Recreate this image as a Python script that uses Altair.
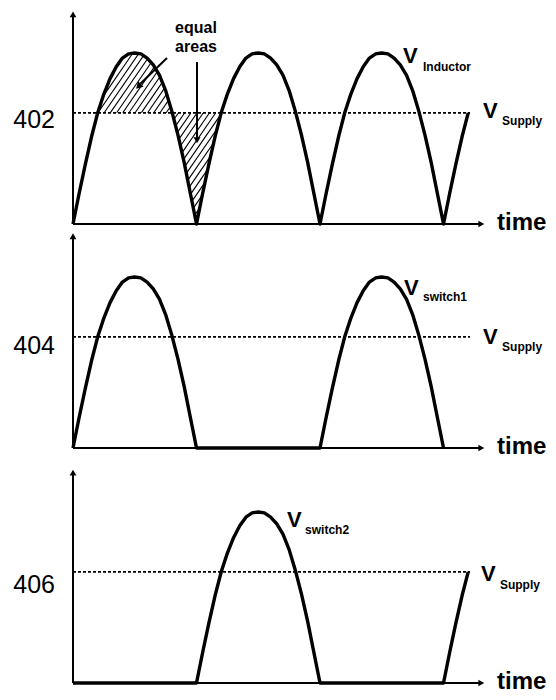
import altair as alt
import pandas as pd
import numpy as np

# ---- data ----
# one half-period "hump" of the rectified waveform, normalised to peak = 1
hump_t = [0.0, 0.05, 0.10, 0.15, 0.20, 0.25, 0.30, 0.35, 0.40, 0.45, 0.50,
          0.55, 0.60, 0.65, 0.70, 0.75, 0.80, 0.85, 0.90, 0.95, 1.0]
hump_v = [0.0, 0.18, 0.35, 0.51, 0.65, 0.76, 0.85, 0.92, 0.97, 0.995, 1.0,
          0.995, 0.97, 0.93, 0.87, 0.78, 0.66, 0.52, 0.36, 0.18, 0.0]
supply_level = 0.65

panel_ids = ["402", "404", "406"]
wave_names = ["Inductor", "switch1", "switch2"]
# waveform pieces of each panel: (kind, start time)
panel_segments = [
    [("hump", 0), ("hump", 1), ("hump", 2), ("rise", 3)],
    [("hump", 0), ("flat", 1), ("hump", 2)],
    [("flat", 0), ("hump", 1), ("flat", 2), ("rise", 3)],
]
supply_end = [3.215, 3.215, 3.215]
axis_end = 3.336
time_label = "time"

# ---- layout ----
X_DOMAIN = [-0.5263, 3.846]
panel_heights = [224, 233, 227]
panel_ydomains = [[-0.0468, 1.263], [-0.0994, 1.263], [-0.0526, 1.2749]]
axis_tip = [1.251, 1.263, 1.255]
FONT = "Liberation Sans"

xs = alt.Scale(domain=X_DOMAIN, nice=False, zero=False)


def wave_frame(segs):
    rows = []
    k = 0
    for kind, t0 in segs:
        if kind == "hump":
            pts = list(zip(hump_t, hump_v))
        elif kind == "rise":
            pts = list(zip(hump_t[:5], hump_v[:5]))
        else:
            pts = [(0.0, 0.0), (1.0, 0.0)]
        for tt, vv in pts:
            rows.append({"t": t0 + tt, "v": vv, "o": k})
            k += 1
    return pd.DataFrame(rows)


def hatch_frame():
    # diagonal hatch segments clipped to the two "equal area" regions
    def f(t):
        return np.interp(np.mod(t, 1.0), hump_t, hump_v)
    k = 1.45 * 123.5 / 171.0
    rows = []
    for c in np.arange(-0.2, 1.95, 6.2 / 123.5):
        tt = np.arange(max(0, c - 0.8), min(1.5, c + 0.9), 0.001)
        vv = supply_level + k * (tt - c)
        fv = f(tt)
        inside = ((vv >= supply_level) & (vv <= fv) & (tt < 1.0)) | (
            (vv <= supply_level) & (vv >= fv) & (tt > 0.5) & (tt < 1.5))
        idx = np.where(inside)[0]
        if len(idx) == 0:
            continue
        runs = np.split(idx, np.where(np.diff(idx) > 1)[0] + 1)
        for r in runs:
            if len(r) < 3:
                continue
            rows.append({"t": tt[r[0]], "v": vv[r[0]], "t2": tt[r[-1]], "v2": vv[r[-1]]})
    return pd.DataFrame(rows)


def text_layer(df, ys, size, weight="normal", align="left"):
    return alt.Chart(df).mark_text(
        font=FONT, fontSize=size, fontWeight=weight, align=align,
        baseline="middle", color="black"
    ).encode(
        x=alt.X("t:Q", scale=xs, axis=None),
        y=alt.Y("v:Q", scale=ys, axis=None),
        text="text:N",
    )


def make_panel(i):
    ys = alt.Scale(domain=panel_ydomains[i], nice=False, zero=False)
    X = lambda f="t": alt.X(f + ":Q", scale=xs, axis=None)
    Y = lambda f="v": alt.Y(f + ":Q", scale=ys, axis=None)
    layers = []

    # axes
    axes = pd.DataFrame([
        {"t": 0, "t2": 0, "v": 0, "v2": axis_tip[i] - 0.02},
        {"t": 0, "t2": axis_end - 0.03, "v": 0, "v2": 0},
    ])
    layers.append(alt.Chart(axes).mark_rule(color="black", strokeWidth=2).encode(
        x=X(), x2="t2:Q", y=Y(), y2="v2:Q"))
    up = pd.DataFrame([{"t": 0, "v": axis_tip[i] - 0.025}])
    layers.append(alt.Chart(up).mark_point(shape="triangle-up", filled=True, size=45,
                                           color="black", opacity=1).encode(x=X(), y=Y()))
    right = pd.DataFrame([{"t": axis_end - 0.03, "v": 0}])
    layers.append(alt.Chart(right).mark_point(shape="triangle-right", filled=True, size=45,
                                              color="black", opacity=1).encode(x=X(), y=Y()))

    # supply dashed line
    sup = pd.DataFrame([{"t": 0, "t2": supply_end[i], "v": supply_level}])
    layers.append(alt.Chart(sup).mark_rule(color="black", strokeWidth=1.6,
                                           strokeDash=[3, 2]).encode(
        x=X(), x2="t2:Q", y=Y()))

    if i == 0:
        hf = hatch_frame()
        layers.append(alt.Chart(hf).mark_rule(color="black", strokeWidth=1.1).encode(
            x=X(), x2="t2:Q", y=Y(), y2="v2:Q"))

    # waveform
    wf = wave_frame(panel_segments[i])
    layers.append(alt.Chart(wf).mark_line(color="black", strokeWidth=3.4,
                                          strokeJoin="round").encode(
        x=X(), y=Y(), order="o:Q"))

    # labels
    ann = {
        0: dict(id_v=0.608, V=(2.672, 0.982), sub=(2.834, 0.918),
                SV=(3.32, 0.661), Ssub=(3.474, 0.602)),
        1: dict(id_v=0.595, V=(2.68, 0.936), sub=(2.834, 0.883),
                SV=(3.32, 0.649), Ssub=(3.474, 0.591)),
        2: dict(id_v=0.573, V=(1.733, 0.953), sub=(1.879, 0.895),
                SV=(3.304, 0.637), Ssub=(3.457, 0.573)),
    }[i]
    layers.append(text_layer(pd.DataFrame([{"t": -0.146, "v": ann["id_v"], "text": panel_ids[i]}]),
                             ys, 25, "normal", "right"))
    layers.append(text_layer(pd.DataFrame([
        {"t": ann["V"][0], "v": ann["V"][1], "text": "V"},
        {"t": ann["SV"][0], "v": ann["SV"][1], "text": "V"},
    ]), ys, 22, "bold"))
    layers.append(text_layer(pd.DataFrame([
        {"t": ann["sub"][0], "v": ann["sub"][1], "text": wave_names[i]},
        {"t": ann["Ssub"][0], "v": ann["Ssub"][1], "text": "Supply"},
    ]), ys, 12, "bold"))
    layers.append(text_layer(pd.DataFrame([{"t": 3.433, "v": 0.005, "text": time_label}]),
                             ys, 24, "bold"))

    if i == 0:
        layers.append(text_layer(pd.DataFrame([
            {"t": 0.996, "v": 1.145, "text": "equal"},
            {"t": 0.996, "v": 1.035, "text": "areas"},
        ]), ys, 16, "bold", "center"))
        arr = pd.DataFrame([
            {"t": 0.761, "v": 0.971, "t2": 0.545, "v2": 0.82},
            {"t": 1.004, "v": 0.947, "t2": 1.004, "v2": 0.50},
        ])
        layers.append(alt.Chart(arr).mark_rule(color="black", strokeWidth=2).encode(
            x=X(), x2="t2:Q", y=Y(), y2="v2:Q"))
        h1 = pd.DataFrame([{"t": 0.53, "v": 0.805}])
        layers.append(alt.Chart(h1).mark_point(shape="triangle-up", filled=True, size=60,
                                               angle=225, color="black", opacity=1).encode(
            x=X(), y=Y()))
        h2 = pd.DataFrame([{"t": 1.004, "v": 0.49}])
        layers.append(alt.Chart(h2).mark_point(shape="triangle-down", filled=True, size=50,
                                               color="black", opacity=1).encode(
            x=X(), y=Y()))

    return alt.layer(*layers).properties(width=540, height=panel_heights[i])


chart = alt.vconcat(make_panel(0), make_panel(1), make_panel(2),
                    spacing=0, bounds="flush").properties(
    padding=0, background="white"
).configure_view(stroke=None)

chart.save("out.html", embed_options={"renderer": "svg", "actions": False})
